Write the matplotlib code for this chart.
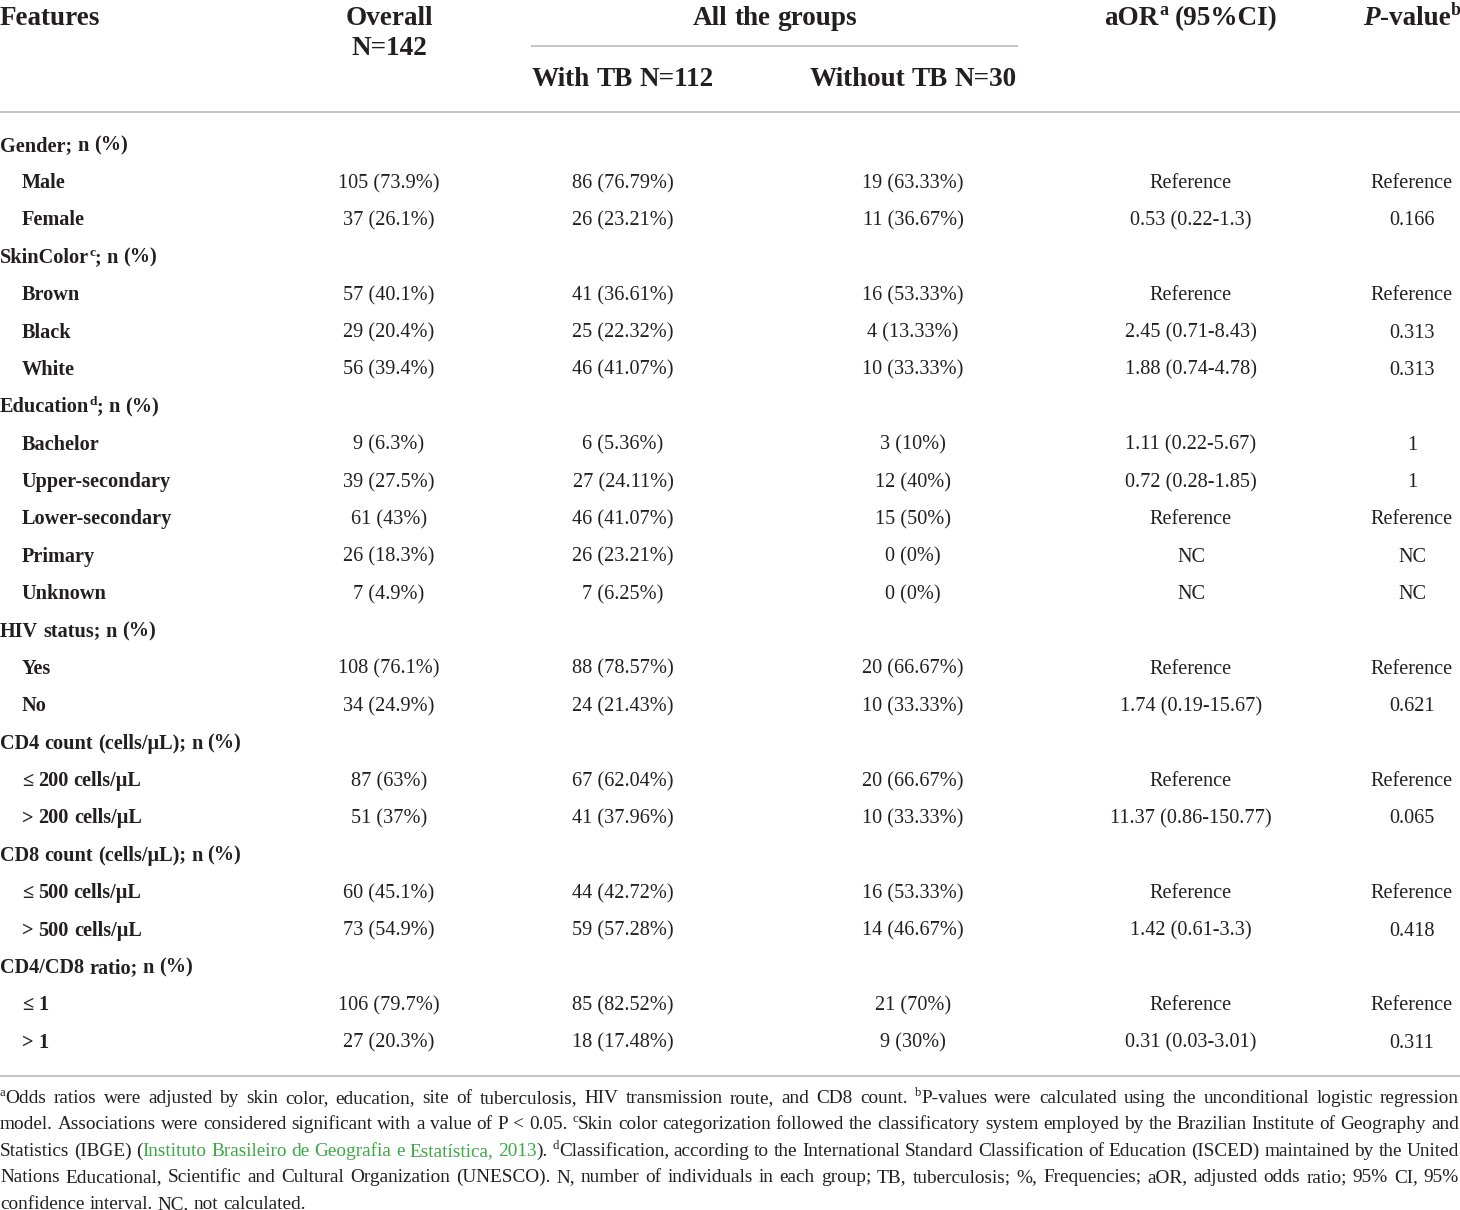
import matplotlib
matplotlib.use("Agg")
import matplotlib.pyplot as plt

plt.rcParams['font.family'] = ['Liberation Serif', 'DejaVu Serif']

INK = "#231f20"
LINK = "#3aa843"
RULE = "#b4b4b4"

# table contents, one entry per body row
features = ["Gender; n (%)", "Male", "Female",
            "SkinColor^c; n (%)", "Brown", "Black", "White",
            "Education^d; n (%)", "Bachelor", "Upper-secondary", "Lower-secondary", "Primary", "Unknown",
            "HIV status; n (%)", "Yes", "No",
            "CD4 count (cells/μL); n (%)", "≤ 200 cells/μL", "> 200 cells/μL",
            "CD8 count (cells/μL); n (%)", "≤ 500 cells/μL", "> 500 cells/μL",
            "CD4/CD8 ratio; n (%)", "≤ 1", "> 1"]
is_group = [1, 0, 0, 1, 0, 0, 0, 1, 0, 0, 0, 0, 0, 1, 0, 0, 1, 0, 0, 1, 0, 0, 1, 0, 0]
overall = ["", "105 (73.9%)", "37 (26.1%)", "", "57 (40.1%)", "29 (20.4%)", "56 (39.4%)",
           "", "9 (6.3%)", "39 (27.5%)", "61 (43%)", "26 (18.3%)", "7 (4.9%)",
           "", "108 (76.1%)", "34 (24.9%)", "", "87 (63%)", "51 (37%)",
           "", "60 (45.1%)", "73 (54.9%)", "", "106 (79.7%)", "27 (20.3%)"]
with_tb = ["", "86 (76.79%)", "26 (23.21%)", "", "41 (36.61%)", "25 (22.32%)", "46 (41.07%)",
           "", "6 (5.36%)", "27 (24.11%)", "46 (41.07%)", "26 (23.21%)", "7 (6.25%)",
           "", "88 (78.57%)", "24 (21.43%)", "", "67 (62.04%)", "41 (37.96%)",
           "", "44 (42.72%)", "59 (57.28%)", "", "85 (82.52%)", "18 (17.48%)"]
without_tb = ["", "19 (63.33%)", "11 (36.67%)", "", "16 (53.33%)", "4 (13.33%)", "10 (33.33%)",
              "", "3 (10%)", "12 (40%)", "15 (50%)", "0 (0%)", "0 (0%)",
              "", "20 (66.67%)", "10 (33.33%)", "", "20 (66.67%)", "10 (33.33%)",
              "", "16 (53.33%)", "14 (46.67%)", "", "21 (70%)", "9 (30%)"]
aor = ["", "Reference", "0.53 (0.22-1.3)", "", "Reference", "2.45 (0.71-8.43)", "1.88 (0.74-4.78)",
       "", "1.11 (0.22-5.67)", "0.72 (0.28-1.85)", "Reference", "NC", "NC",
       "", "Reference", "1.74 (0.19-15.67)", "", "Reference", "11.37 (0.86-150.77)",
       "", "Reference", "1.42 (0.61-3.3)", "", "Reference", "0.31 (0.03-3.01)"]
pvalue = ["", "Reference", "0.166", "", "Reference", "0.313", "0.313",
          "", "1", "1", "Reference", "NC", "NC",
          "", "Reference", "0.621", "", "Reference", "0.065",
          "", "Reference", "0.418", "", "Reference", "0.311"]

# footnote lines as runs of (text, kind)
footnotes = [
    [("a", "sup"), ("Odds ratios were adjusted by skin color, education, site of tuberculosis, HIV transmission "
                    "route, and CD8 count. ", "n"), ("b", "sup"),
     ("P-values were calculated using the unconditional logistic regression", "n")],
    [("model. Associations were considered significant with a value of P < 0.05. ", "n"), ("c", "sup"),
     ("Skin color categorization followed the classificatory system employed by the Brazilian Institute of "
      "Geography and", "n")],
    [("Statistics (IBGE) (", "n"), ("Instituto Brasileiro de Geografia e Estatística, 2013", "link"),
     ("). ", "n"), ("d", "sup"),
     ("Classification, according to the International Standard Classification of Education (ISCED) "
      "maintained by the United", "n")],
    [("Nations Educational, Scientific and Cultural Organization (UNESCO). N, number of individuals in each "
      "group; TB, tuberculosis; %, Frequencies; aOR, adjusted odds ratio; 95% CI, 95%", "n")],
    [("confidence interval. NC, not calculated.", "n")],
]

W, H = 1460, 1210
fig = plt.figure(figsize=(W / 100, H / 100), dpi=100)
ax = fig.add_axes([0, 0, 1, 1])
ax.set_xlim(0, W)
ax.set_ylim(H, 0)
ax.axis("off")
renderer = fig.canvas.get_renderer()

PX = 100 / 72  # pixels per point


def props_for(kind, base):
    p = dict(base)
    if kind == "sup":
        p["fontsize"] = base["fontsize"] * 0.66
    elif kind == "link":
        p["color"] = LINK
    elif kind == "it":
        p["style"] = "italic"
    return p


def measure(s, p):
    t = ax.text(0, 0, s, **p)
    w = t.get_window_extent(renderer).width
    t.remove()
    return w


def space_of(base):
    # word space of Liberation Serif is a quarter em
    return 0.25 * base["fontsize"] * PX


def split_words(runs):
    words = [[]]
    for text, kind in runs:
        parts = text.split(" ")
        for i, part in enumerate(parts):
            if i > 0:
                words.append([])
            if part:
                words[-1].append((part, kind))
    return [w for w in words if w]


def draw_runs(x, y, runs, base, ha="left", width=None):
    """ lay runs out word by word; justify to width if given """
    words = split_words(runs)
    space = space_of(base)
    widths = [[measure(s, props_for(k, base)) for s, k in w] for w in words]
    natural = sum(sum(ws) for ws in widths) + space * (len(words) - 1)
    gap = space
    if width is not None and len(words) > 1:
        gap = (width - sum(sum(ws) for ws in widths)) / (len(words) - 1)
        natural = width
    if ha == "center":
        x -= natural / 2
    elif ha == "right":
        x -= natural
    for w, ws in zip(words, widths):
        for (s, k), wd in zip(w, ws):
            p = props_for(k, base)
            dy = -base["fontsize"] * PX * 0.36 if k == "sup" else 0
            ax.text(x, y + dy, s, va="baseline", ha="left", **p)
            x += wd
        x += gap
    return natural


def parse_label(s):
    """ 'SkinColor^c; n (%)' -> runs with superscript """
    runs = []
    while "^" in s:
        i = s.index("^")
        runs.append((s[:i], "n"))
        runs.append((s[i + 1], "sup"))
        s = s[i + 2:]
    runs.append((s, "n"))
    return [r for r in runs if r[0]]


head = dict(fontsize=19.5, fontweight="bold", color=INK)
body = dict(fontsize=14.6, color=INK)
label = dict(fontsize=14.6, fontweight="bold", color=INK)

col_x = [389, 623, 913, 1191, 1412]

# header
draw_runs(0, 25, [("Features", "n")], head)
draw_runs(col_x[0], 25, [("Overall", "n")], head, ha="center")
draw_runs(col_x[0], 55, [("N=142", "n")], head, ha="center")
draw_runs(775, 25, [("All the groups", "n")], head, ha="center")
draw_runs(col_x[1], 86, [("With TB N=112", "n")], head, ha="center")
draw_runs(col_x[2], 86, [("Without TB N=30", "n")], head, ha="center")
draw_runs(col_x[3], 25, [("aOR", "n"), ("a", "sup"), (" (95%CI)", "n")], head, ha="center")
draw_runs(col_x[4], 25, [("P", "it"), ("-value", "n"), ("b", "sup")], head, ha="center")

ax.hlines(45.5, 531, 1018, color=RULE, lw=1.1)
ax.hlines(112, 0, W, color=RULE, lw=1.1)
ax.hlines(1075.5, 0, W, color=RULE, lw=1.1)

# body rows
row0, step = 150.7, 37.375
columns = [overall, with_tb, without_tb, aor, pvalue]
for i, feat in enumerate(features):
    y = row0 + i * step
    draw_runs(0 if is_group[i] else 22, y, parse_label(feat), label)
    for cx, col in zip(col_x, columns):
        if col[i]:
            ax.text(cx, y, col[i], ha="center", va="baseline", **body)

# footnotes, justified except the last line; size chosen so the tightest line
# still keeps a near-normal word space
probe = dict(fontsize=14.0, color=INK)
limits = []
for r in footnotes[:-1]:
    words = split_words(r)
    ink = sum(measure(s, props_for(k, probe)) for w in words for s, k in w)
    limits.append(14.0 * W / (ink + 0.9 * space_of(probe) * (len(words) - 1)))
fn_size = min(16.0, min(limits))
foot = dict(fontsize=fn_size, color=INK)
fn0, fn_step = 1103, 26.4
for j, runs in enumerate(footnotes):
    y = fn0 + j * fn_step
    last = j == len(footnotes) - 1
    draw_runs(0, y, runs, foot, width=None if last else W - 1)

fig.savefig("out.png", dpi=100)
